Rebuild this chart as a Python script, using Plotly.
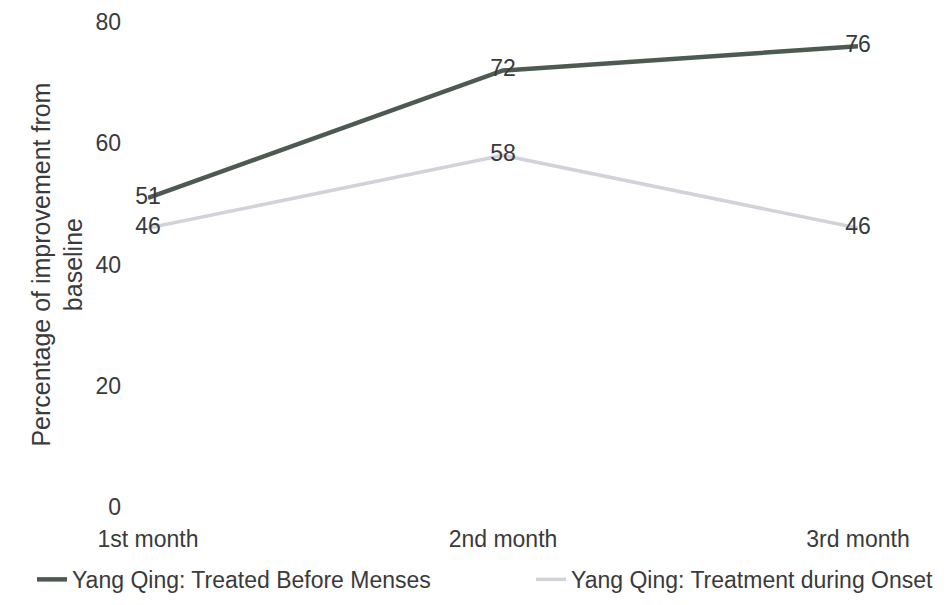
import plotly.graph_objects as go

categories = ["1st month", "2nd month", "3rd month"]
before_menses = [51, 72, 76]
during_onset = [46, 58, 46]
series_names = ["Yang Qing: Treated Before Menses", "Yang Qing: Treatment during Onset"]
y_ticks = [0, 20, 40, 60, 80]

FONT = "Liberation Sans, Arial, sans-serif"
TXT = "#3a3a3a"
FS = 23
x_idx = list(range(len(categories)))

fig = go.Figure()
fig.add_trace(go.Scatter(
    x=x_idx, y=during_onset, mode="lines+text", name=series_names[1],
    line=dict(color="#d2d2da", width=3.5), legend="legend2",
    text=[str(v) for v in during_onset], textposition="middle center",
    textfont=dict(family=FONT, size=FS, color=TXT), cliponaxis=False,
))
fig.add_trace(go.Scatter(
    x=x_idx, y=before_menses, mode="lines+text", name=series_names[0],
    line=dict(color="#4c5a52", width=4.5), legend="legend",
    text=[str(v) for v in before_menses], textposition="middle center",
    textfont=dict(family=FONT, size=FS, color=TXT), cliponaxis=False,
))

leg_common = dict(orientation="h", y=-0.105, xanchor="left", yanchor="top",
                  font=dict(family=FONT, size=FS, color=TXT),
                  bgcolor="rgba(0,0,0,0)", itemwidth=30)

fig.update_layout(
    width=952, height=605,
    margin=dict(l=148, r=94, t=22, b=98, autoexpand=False),
    paper_bgcolor="white", plot_bgcolor="white",
    font=dict(family=FONT, size=FS, color=TXT),
    showlegend=True,
    legend=dict(x=-0.1634, **leg_common),
    legend2=dict(x=0.5395, **leg_common),
    xaxis=dict(
        range=[0, 2], tickvals=x_idx, ticktext=categories,
        showgrid=False, zeroline=False, showline=False, ticks="",
        ticklabelstandoff=16, tickfont=dict(family=FONT, size=FS, color=TXT),
    ),
    yaxis=dict(
        range=[0, 80], tickvals=y_ticks, showgrid=False, zeroline=False,
        showline=False, ticks="", ticklabelstandoff=26,
        tickfont=dict(family=FONT, size=FS, color=TXT),
    ),
    annotations=[
        dict(text="Percentage of improvement from<br>baseline", textangle=-90,
             xref="paper", yref="paper", x=-0.128, y=0.5, xanchor="center",
             yanchor="middle", showarrow=False,
             font=dict(family=FONT, size=25, color=TXT)),
    ],
)

fig.write_html("out.html")
